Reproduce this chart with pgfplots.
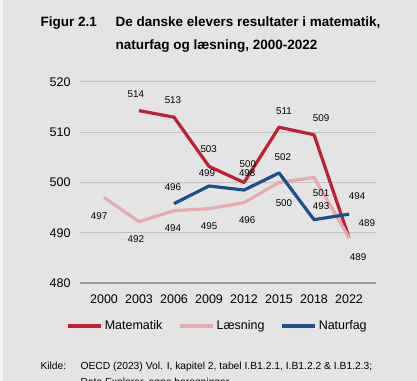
\documentclass[border=0pt]{standalone}
\usepackage{pgfplots}
\pgfplotsset{compat=1.18}
\usepackage{fontspec}
\setmainfont{Liberation Sans}
\definecolor{bg}{HTML}{E4E4E4}
\definecolor{mat}{HTML}{BE2036}
\definecolor{laes}{HTML}{E9A9B1}
\definecolor{nat}{HTML}{1C4F8E}
\definecolor{gridc}{HTML}{C4C4C4}
\definecolor{basec}{HTML}{9A9A9A}
\begin{document}
\begin{tikzpicture}
\fill[bg] (0bp,0bp) rectangle (417bp,381bp);
\fill[white!60!bg] (0bp,0bp) rectangle (3bp,381bp);
\clip (0bp,0bp) rectangle (417bp,381bp);
% title
\node[anchor=base west,font=\fontsize{13.5bp}{15bp}\selectfont\bfseries] at (37bp,354bp) {Figur 2.1};
\node[anchor=base west,font=\fontsize{13.5bp}{15bp}\selectfont\bfseries] at (112bp,354bp) {De danske elevers resultater i matematik,};
\node[anchor=base west,font=\fontsize{13.5bp}{15bp}\selectfont\bfseries] at (112bp,331bp) {naturfag og læsning, 2000-2022};
% source
\node[anchor=base west,font=\fontsize{10.3bp}{11bp}\selectfont] at (37bp,12bp) {Kilde:};
\node[anchor=base west,font=\fontsize{10.3bp}{11bp}\selectfont] at (77bp,12bp) {OECD (2023) Vol. I, kapitel 2, tabel I.B1.2.1, I.B1.2.2 \& I.B1.2.3;};
\node[anchor=base west,font=\fontsize{10.3bp}{11bp}\selectfont] at (77bp,-4bp) {Data Explorer, egne beregninger};
\begin{axis}[
  at={(80bp,98bp)}, anchor=south west,
  scale only axis, width=296bp, height=201bp,
  xmin=-0.686, xmax=7.77, ymin=480, ymax=520,
  axis lines=none,
  ytick={480,490,500,510,520},
  xtick={0,...,7},
  xticklabels={2000,2003,2006,2009,2012,2015,2018,2022},
  clip=false,
  /pgf/number format/assume math mode=true,
  legend style={at={(0.465,-0.214)},anchor=center,draw=none,fill=none,
    legend columns=3,font=\fontsize{12.5bp}{14bp}\selectfont,
    /tikz/every even column/.append style={column sep=14bp},
    inner sep=0pt},
  legend image code/.code={\draw[#1,line width=3.2bp] (0bp,0bp) -- (33bp,0bp);},
  every axis plot/.append style={line width=3.2bp, line join=round},
]
% gridlines via data
\addplot[gridc,line width=1bp,forget plot] coordinates {(-0.686,490) (7.77,490)};
\addplot[gridc,line width=1bp,forget plot] coordinates {(-0.686,500) (7.77,500)};
\addplot[gridc,line width=1bp,forget plot] coordinates {(-0.686,510) (7.77,510)};
\addplot[gridc,line width=1bp,forget plot] coordinates {(-0.686,520) (7.77,520)};
\addplot[basec,line width=1.6bp,forget plot] coordinates {(-0.686,480) (7.77,480)};
% tick labels
\foreach \v in {480,490,500,510,520} {
  \edef\tmp{\noexpand\node[anchor=east,font=\noexpand\fontsize{12.5bp}{14bp}\noexpand\selectfont] at (axis cs:-0.686,\v) [xshift=-6bp] {\v};}
  \tmp
}
\foreach \i/\lab in {0/2000,1/2003,2/2006,3/2009,4/2012,5/2015,6/2018,7/2022} {
  \edef\tmp{\noexpand\node[font=\noexpand\fontsize{12.5bp}{14bp}\noexpand\selectfont] at (axis cs:\i,480) [yshift=-16bp] {\lab};}
  \tmp
}
\addplot[mat] coordinates {(1,514.3) (2,513) (3,503.2) (4,500) (5,511) (6,509.5) (7,489)};
\addlegendentry{Matematik}
\addplot[laes] coordinates {(0,497) (1,492.2) (2,494.4) (3,494.8) (4,496) (5,500) (6,501) (7,489)};
\addlegendentry{Læsning}
\addplot[nat] coordinates {(2,495.8) (3,499.3) (4,498.5) (5,501.9) (6,492.6) (7,493.7)};
\addlegendentry{Naturfag}
% data labels
\begin{scope}[every node/.style={font=\fontsize{9.8bp}{11bp}\selectfont}]
\node at (axis cs:0.91,517.6) {514};
\node at (axis cs:1.97,516.4) {513};
\node at (axis cs:2.99,506.7) {503};
\node at (axis cs:4.11,503.7) {500};
\node at (axis cs:5.14,514.2) {511};
\node at (axis cs:6.2,512.8) {509};
\node at (axis cs:7.51,491.9) {489};
\node at (axis cs:-0.14,493.3) {497};
\node at (axis cs:0.91,488.8) {492};
\node at (axis cs:1.97,490.9) {494};
\node at (axis cs:3.0,491.3) {495};
\node at (axis cs:4.09,492.5) {496};
\node at (axis cs:5.14,495.9) {500};
\node at (axis cs:6.2,497.9) {501};
\node at (axis cs:7.26,485.2) {489};
\node at (axis cs:1.97,499.1) {496};
\node at (axis cs:2.94,501.9) {499};
\node at (axis cs:4.09,501.9) {498};
\node at (axis cs:5.11,505.1) {502};
\node at (axis cs:6.2,495.3) {493};
\node at (axis cs:7.23,497.3) {494};
\end{scope}
\end{axis}
\end{tikzpicture}
\end{document}
